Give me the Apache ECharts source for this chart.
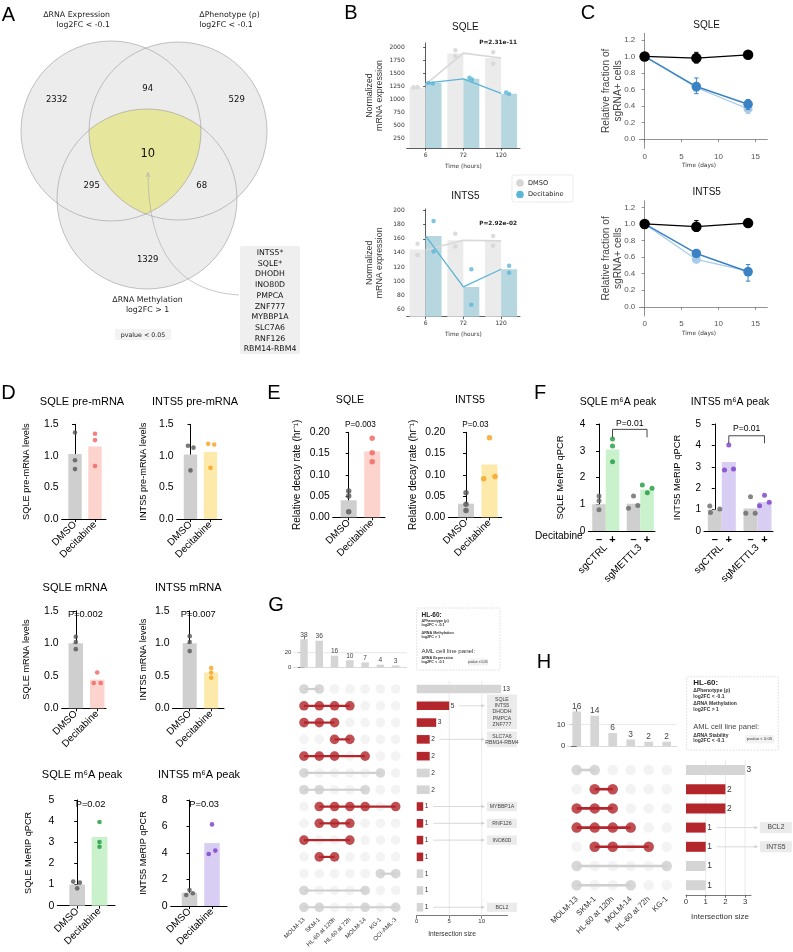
<!DOCTYPE html>
<html><head><meta charset="utf-8"><title>Figure</title>
<script src="https://cdn.jsdelivr.net/npm/echarts@6/dist/echarts.min.js"></script>
<style>html,body{margin:0;padding:0;background:#fff;}#chart{width:793px;height:952px;}</style>
</head><body><div id="chart"></div>
<script>
/* ================= DATA ================= */
// Panel A (Venn)
const vennSets = ['ΔRNA Expression\nlog2FC < -0.1', 'ΔPhenotype (ρ)\nlog2FC < -0.1', 'ΔRNA Methylation\nlog2FC > 1'];
const vennCounts = [2332, 94, 529, 10, 295, 68, 1329]; // E only, E&P, P only, all, E&M, P&M, M only
const vennGenes = ['INTS5*','SQLE*','DHODH','INO80D','PMPCA','ZNF777','MYBBP1A','SLC7A6','RNF126','RBM14-RBM4'];
const vennNote = 'pvalue < 0.05';

// Panel B
const bTimes = ['6','72','120'];
const bSqleDmso = [1235, 1890, 1800];
const bSqleDec = [1325, 1400, 1115];
const bSqleDmsoLine = [1295, 1895, 1800];
const bSqleDecLine = [1320, 1400, 1120];
const bSqleDmsoReps = [[1240,1240],[1950,1840],[1910,1690]];
const bSqleDecReps = [[1320,1310],[1420,1390],[1140,1110]];
const bInts5Dmso = [145, 158, 157];
const bInts5Dec = [164, 92, 117];
const bInts5DmsoLine = [144, 158, 157];
const bInts5DecLine = [164, 92, 117];
const bInts5DmsoReps = [[153,137],[167,149],[164,150]];
const bInts5DecReps = [[185,142],[117,67],[122,112]];
const bPvals = ['P=2.31e-11', 'P=2.92e-02'];
const bLegend = ['DMSO', 'Decitabine'];

// Panel C
const cDays = [0, 7, 14];
const cSqleCtrl = [1.0, 0.98, 1.02];
const cSqleCtrlErr = [[0.98,1.02],[0.92,1.05],[1.00,1.03]];
const cSqleSg1 = [1.0, 0.636, 0.423];
const cSqleSg1Err = [[0.99,1.01],[0.55,0.74],[0.36,0.48]];
const cSqleSg2 = [1.0, 0.625, 0.366];
const cSqleSg2Err = [[0.99,1.01],[0.58,0.68],[0.31,0.42]];
const cInts5Ctrl = [1.0, 0.967, 1.01];
const cInts5CtrlErr = [[0.98,1.02],[0.91,1.04],[1.00,1.02]];
const cInts5Sg1 = [1.0, 0.644, 0.423];
const cInts5Sg1Err = [[0.99,1.01],[0.62,0.67],[0.31,0.51]];
const cInts5Sg2 = [1.0, 0.572, 0.43];
const cInts5Sg2Err = [[0.99,1.01],[0.55,0.59],[0.38,0.47]];

// Panel D
const dGroups = ['DMSO', 'Decitabine'];
const dSqlePreMean = [1.03, 1.15];
const dSqlePreReps = [[1.37,0.93,0.79],[1.35,1.25,0.84]];
const dInts5PreMean = [1.02, 1.06];
const dInts5PreReps = [[1.16,1.13,0.77],[1.19,1.18,0.81]];
const dSqleMrnaMean = [1.0, 0.44];
const dSqleMrnaReps = [[1.10,1.02,0.91],[0.55,0.39,0.39]];
const dInts5MrnaMean = [1.0, 0.55];
const dInts5MrnaReps = [[1.11,1.02,0.88],[0.62,0.55,0.47]];
const dSqleM6aMean = [1.0, 3.25];
const dSqleM6aReps = [[1.14,1.09,0.82],[3.96,3.01,2.79]];
const dInts5M6aMean = [1.0, 4.75];
const dInts5M6aReps = [[1.21,0.83,0.96],[6.16,4.18,3.92]];
const dPvals = ['P=0.002','P=0.007','P=0.02','P=0.03'];

// Panel E
const eSqleMean = [0.040, 0.155];
const eSqleReps = [[0.062,0.050,0.013],[0.186,0.152,0.131]];
const eInts5Mean = [0.032, 0.124];
const eInts5Reps = [[0.058,0.031,0.016],[0.187,0.091,0.096]];
const ePvals = ['P=0.003','P=0.03'];

// Panel F
const fGroups = ['sgCTRL','sgMETTL3'];
const fTreat = ['–','+','–','+'];
const fSqleMean = [1.0, 3.05, 1.02, 1.55];
const fSqleReps = [[1.31,1.13,0.79],[3.44,3.18,2.59],[1.31,0.85,0.95],[1.72,1.43,1.60]];
const fInts5Mean = [1.0, 3.22, 1.05, 1.35];
const fInts5Reps = [[1.17,0.87,1.03],[4.02,2.85,2.90],[1.60,0.83,0.83],[1.67,1.18,1.34]];
const fPvals = ['P=0.01','P=0.01'];

// Panel G (UpSet)
const gCols = ['MOLM-13','SKM-1','HL-60 at 120h','HL-60 at 72h','MOLM-14','KG-1','OCI-AML-3'];
const gColTotals = [38,36,16,10,7,4,3];
const gRows = [[0,1],[0,1,2,3],[0,1,2],[2,3],[0,1,2,4],[0,5],[0,1,4],[1,2,3,4,6],[1,2,3],[0,3],[1,2],[5,6],[0,4],[0,1,4,6]];
const gRowSizes = [13,5,3,2,2,2,2,1,1,1,1,1,1,1];
const gRowHighlight = [0,1,1,1,1,0,0,1,1,1,1,0,0,0];
const gLabelRows = [1,3,7,8,9,13];
const gLabelTexts = ['SQLE\nINTS5\nDHODH\nPMPCA\nZNF777','SLC7A6\nRBM14-RBM4','MYBBP1A','RNF126','INO80D','BCL2'];
const gBoxTitle = 'HL-60:';
const gBoxLines = ['ΔPhenotype (ρ)','log2FC < -0.1','ΔRNA Methylation','log2FC > 1'];
const gBoxPanel = 'AML cell line panel:';
const gBoxPanelLines = ['ΔRNA Expression','log2FC < -0.1'];

// Panel H (UpSet)
const hCols = ['MOLM-13','SKM-1','HL-60 at 120h','MOLM-14','HL-60 at 72h','KG-1'];
const hColTotals = [16,14,6,3,2,2];
const hRows = [[0,1],[1,2],[0,1,2],[0,1,2,3],[1,2,4],[0,5],[0,3]];
const hRowSizes = [3,2,2,1,1,1,1];
const hRowHighlight = [0,1,1,1,1,0,0];
const hLabelRows = [3,4];
const hLabelTexts = ['BCL2','INTS5'];
const hBoxLines = ['ΔPhenotype (ρ)','log2FC < -0.1','ΔRNA Methylation','log2FC > 1'];
const hBoxPanelLines = ['ΔRNA Stability','log2FC < -0.1'];

/* ================= BUILD ================= */
const SANS = '"Liberation Sans", Arial, Helvetica, sans-serif';
const DJV = '"DejaVu Sans", Verdana, sans-serif';
const RED = '#b3262b', UGREY = '#cfcfcf';
const option = {animation:false, backgroundColor:'#ffffff', textStyle:{fontFamily:SANS},
  grid:[], xAxis:[], yAxis:[], series:[], graphic:{elements:[]}};
const GR = option.graphic.elements;

function merge(a,b){const o=Object.assign({},a);for(const k in b){const v=b[k];
  if(v&&typeof v==='object'&&!Array.isArray(v)&&o[k]&&typeof o[k]==='object'&&!Array.isArray(o[k]))o[k]=merge(o[k],v);else o[k]=v;}return o;}
function grid(l,t,w,h){option.grid.push({left:l,top:t,width:w,height:h,containLabel:false,outerBoundsMode:'none',show:false});return option.grid.length-1;}
function xAx(o){option.xAxis.push(o);return option.xAxis.length-1;}
function yAx(o){option.yAxis.push(o);return option.yAxis.length-1;}
function ser(o){o.silent=true;o.animation=false;option.series.push(o);}
function tStyle(str,size,o){const s={text:str,fontSize:size,fontFamily:o.font||SANS,fontWeight:o.weight||'normal',fill:o.color||'#000',
  align:o.align||'center',textAlign:o.align||'center',verticalAlign:o.va||'middle',textVerticalAlign:o.va||'middle'};if(o.lh)s.lineHeight=o.lh;return s;}
function text(x,y,str,size,o={}){GR.push({type:'text',x:x,y:y,rotation:o.rot||0,z:o.z||20,silent:true,style:tStyle(str,size,o)});}
function rect(x,y,w,h,style,r){GR.push({type:'rect',shape:{x:x,y:y,width:w,height:h,r:r||0},style:style,z:5,silent:true});}
const ROT = Math.PI/2;

/* ---------- Panel letters ---------- */
[['A',8.5,15],['B',351,13],['C',588,13],['D',8.5,393],['E',274,393],['F',540,393],['G',276,605],['H',544,662]]
  .forEach(p=>text(p[1],p[2],p[0],20,{font:SANS}));

/* ---------- Panel A: Venn ---------- */
const VC=[{x:111,y:131,r:90},{x:178,y:131,r:89},{x:147,y:199,r:90}];
VC.forEach(c=>GR.push({type:'circle',shape:{cx:c.x,cy:c.y,r:c.r},style:{fill:'#ececec'},z:1,silent:true}));
function inter(a,b){const dx=b.x-a.x,dy=b.y-a.y,d=Math.hypot(dx,dy);const l=(a.r*a.r-b.r*b.r+d*d)/(2*d);const h=Math.sqrt(a.r*a.r-l*l);
  const mx=a.x+dx*l/d,my=a.y+dy*l/d;return [[mx+h*dy/d,my-h*dx/d],[mx-h*dy/d,my+h*dx/d]];}
function arcPts(c,p1,p2){let a1=Math.atan2(p1[1]-c.y,p1[0]-c.x),a2=Math.atan2(p2[1]-c.y,p2[0]-c.x);while(a2<a1)a2+=2*Math.PI;
  const pts=[];for(let i=0;i<=40;i++){const a=a1+(a2-a1)*i/40;pts.push([c.x+c.r*Math.cos(a),c.y+c.r*Math.sin(a)]);}return pts;}
const vLow=inter(VC[0],VC[1]).sort((p,q)=>q[1]-p[1])[0];
const vTL=inter(VC[2],VC[1]).sort((p,q)=>p[0]-q[0])[0];
const vTR=inter(VC[2],VC[0]).sort((p,q)=>q[0]-p[0])[0];
GR.push({type:'polygon',shape:{points:[...arcPts(VC[2],vTL,vTR),...arcPts(VC[0],vTR,vLow),...arcPts(VC[1],vLow,vTL)]},style:{fill:'#e6e69c'},z:2,silent:true});
VC.forEach(c=>GR.push({type:'circle',shape:{cx:c.x,cy:c.y,r:c.r},style:{fill:null,stroke:'#9a9a9a',lineWidth:0.6},z:3,silent:true}));
const vennSetPos=[{x:110,y:15,align:'right'},{x:199.3,y:15,align:'left'},{x:147.5,y:300,align:'center'}];
vennSets.forEach((s,i)=>{const ls=s.split('\n');ls.forEach((l,k)=>text(vennSetPos[i].x,vennSetPos[i].y+k*10,l,7.8,{font:DJV,align:vennSetPos[i].align,color:'#222'}));});
const vennPos=[[56.7,100],[147.7,88.3],[236.7,100],[147.7,154],[91.7,186],[201.7,186],[147.7,260]];
vennCounts.forEach((v,i)=>text(vennPos[i][0],vennPos[i][1],String(v),i===3?11.5:8.5,{font:DJV,color:'#111'}));
GR.push({type:'bezierCurve',shape:{x1:239,y1:295,cpx1:148,cpy1:290,x2:148,y2:173},style:{stroke:'#b0b0b0',lineWidth:0.7,fill:null},z:4,silent:true});
GR.push({type:'polyline',shape:{points:[[146,177],[148,172.5],[150,177]]},style:{stroke:'#b0b0b0',lineWidth:0.7,fill:null},z:4,silent:true});
rect(240,246,60,108,{fill:'#efefef'},2);
vennGenes.forEach((g,i)=>text(270,253+i*10.7,g,7.8,{font:DJV,color:'#111'}));
rect(115,329,56,11,{fill:'#f3f3f3'},1);
text(143,335,vennNote,6.3,{font:DJV,color:'#222'});

/* ---------- Panel B ---------- */
const SEA={axisLine:{show:true,lineStyle:{color:'#333',width:0.8}},axisTick:{show:true,length:2.5,lineStyle:{color:'#333',width:0.8}},
  axisLabel:{show:true,color:'#333',fontSize:6,fontFamily:DJV,margin:2},splitLine:{show:false}};
function bPanel(L,d){
  const g=grid(L.left,L.top,L.width,L.height);
  const xc=xAx(merge(SEA,{gridIndex:g,type:'category',data:bTimes,boundaryGap:true,axisTick:{alignWithLabel:true},axisLabel:{margin:4}}));
  const xv=xAx({gridIndex:g,type:'value',min:-0.5,max:2.5,show:false});
  const y=yAx(merge(SEA,{gridIndex:g,type:'value',min:L.ymin,max:L.ymax,startValue:L.ymin,axisTick:{customValues:L.ticks},
    axisLabel:{customValues:L.ticks,formatter:v=>String(v)}}));
  ser({type:'bar',xAxisIndex:xc,yAxisIndex:y,data:d.dmso,barWidth:L.barW,barGap:'0%',clip:true,itemStyle:{color:'#ebebeb'},z:1});
  ser({type:'bar',xAxisIndex:xc,yAxisIndex:y,data:d.dec,barWidth:L.barW,barGap:'0%',clip:true,itemStyle:{color:'#b6d7df'},z:1});
  ser({type:'line',xAxisIndex:xc,yAxisIndex:y,data:d.dmsoLine,symbol:'none',lineStyle:{color:'#d8d8d8',width:1.6},z:3});
  ser({type:'line',xAxisIndex:xc,yAxisIndex:y,data:d.decLine,symbol:'none',lineStyle:{color:'#5cb4d5',width:1.3},z:3});
  const off=(L.barW/2)/(L.width/3);
  ser({type:'scatter',xAxisIndex:xv,yAxisIndex:y,symbolSize:4.5,itemStyle:{color:'#d3d3d3'},z:4,
    data:d.dmsoReps.flatMap((r,i)=>r.map((v,k)=>[i-off+L.jitD[i][k],v]))});
  ser({type:'scatter',xAxisIndex:xv,yAxisIndex:y,symbolSize:4.5,itemStyle:{color:'#5cb6d8'},z:4,
    data:d.decReps.flatMap((r,i)=>r.map((v,k)=>[i+off+L.jitT[i][k],v]))});
  text(L.left+L.width-3,L.top+L.pY,d.p,5.8,{font:DJV,weight:'bold',align:'right',color:'#222'});
  text(L.left+L.width/2+2,L.titleY,d.title,10,{color:'#111'});
  text(L.left+L.width/2,L.top+L.height+18,'Time (hours)',5.8,{font:DJV,color:'#333'});
  text(370,L.top+L.height/2,'Normalized',8.8,{rot:ROT,color:'#333'});
  text(380,L.top+L.height/2,'mRNA expression',8.8,{rot:ROT,color:'#333'});
}
bPanel({left:406.7,top:43,width:113.3,height:105,ymin:70,ymax:2090,ticks:[250,500,750,1000,1250,1500,1750,2000],barW:16,pY:-0.5,titleY:27,
  jitD:[[-0.11,0],[0,0],[0,0]],jitT:[[-0.14,-0.02],[-0.05,0.02],[-0.08,0]]},
  {dmso:bSqleDmso,dec:bSqleDec,dmsoLine:bSqleDmsoLine,decLine:bSqleDecLine,dmsoReps:bSqleDmsoReps,decReps:bSqleDecReps,p:bPvals[0],title:'SQLE'});
bPanel({left:406.7,top:209,width:113.3,height:107.7,ymin:50,ymax:202,ticks:[60,80,100,120,140,160,180,200],barW:16,pY:14.5,titleY:196,
  jitD:[[0,0],[0,0],[0,0]],jitT:[[0,0],[0,0],[0,0]]},
  {dmso:bInts5Dmso,dec:bInts5Dec,dmsoLine:bInts5DmsoLine,decLine:bInts5DecLine,dmsoReps:bInts5DmsoReps,decReps:bInts5DecReps,p:bPvals[1],title:'INTS5'});
// legend
rect(512,175,61,27,{fill:'#fff',stroke:'#e2e2e2',lineWidth:0.7},2);
GR.push({type:'circle',shape:{cx:520,cy:183,r:3.8},style:{fill:'#d6d6d6'},z:6,silent:true});
GR.push({type:'circle',shape:{cx:520,cy:194.5,r:3.8},style:{fill:'#5cb6d8'},z:6,silent:true});
text(528,183,bLegend[0],6.6,{font:DJV,align:'left',color:'#222'});
text(528,194.5,bLegend[1],6.6,{font:DJV,align:'left',color:'#222'});

/* ---------- Panel C ---------- */
const CAX={axisLine:{show:true,lineStyle:{color:'#777',width:0.8}},axisTick:{show:true,length:3,lineStyle:{color:'#777',width:0.8}},
  axisLabel:{show:true,color:'#555',fontSize:8,fontFamily:SANS,margin:4},splitLine:{show:false}};
function errSeries(x,y,vals,errs,color,z){
  ser({type:'custom',xAxisIndex:x,yAxisIndex:y,z:z,encode:{x:0,y:[1,2]},data:cDays.map((d,i)=>[d,errs[i][0],errs[i][1]]),
    renderItem:(p,api)=>{const lo=api.coord([api.value(0),api.value(1)]),hi=api.coord([api.value(0),api.value(2)]);const w=2.2;
      return {type:'group',children:[
        {type:'line',shape:{x1:lo[0],y1:lo[1],x2:hi[0],y2:hi[1]},style:{stroke:color,lineWidth:1}},
        {type:'line',shape:{x1:lo[0]-w,y1:lo[1],x2:lo[0]+w,y2:lo[1]},style:{stroke:color,lineWidth:1}},
        {type:'line',shape:{x1:hi[0]-w,y1:hi[1],x2:hi[0]+w,y2:hi[1]},style:{stroke:color,lineWidth:1}}]};}});
}
function cPanel(top,h,d){
  const g=grid(639.3,top,128,h);
  const x=xAx(merge(CAX,{gridIndex:g,type:'value',min:-0.72,max:16.6,axisTick:{customValues:[0,5,10,15]},axisLabel:{customValues:[0,5,10,15]}}));
  const y=yAx(merge(CAX,{gridIndex:g,type:'value',min:-0.11,max:1.28,axisTick:{customValues:[0,0.2,0.4,0.6,0.8,1.0,1.2]},
    axisLabel:{customValues:[0,0.2,0.4,0.6,0.8,1.0,1.2],formatter:v=>v.toFixed(1)}}));
  const sets=[[d.sg2,d.sg2Err,'#a9cbea',9,1.2,2],[d.sg1,d.sg1Err,'#3a82c4',9.5,1.5,4],[d.ctrl,d.ctrlErr,'#000000',10.5,1.2,6]];
  sets.forEach(s=>{
    errSeries(x,y,s[0],s[1],s[2],s[5]);
    ser({type:'line',xAxisIndex:x,yAxisIndex:y,z:s[5]+1,data:cDays.map((dd,i)=>[dd,s[0][i]]),symbol:'circle',symbolSize:s[3],
      showSymbol:true,itemStyle:{color:s[2]},lineStyle:{color:s[2],width:s[4]}});
  });
  text(706.7,top-8.5,d.title,10,{color:'#111'});
  text(699,top+h+17,'Time (days)',5.8,{font:DJV,color:'#333'});
  text(606,top+h/2,'Relative fraction of',10.2,{rot:ROT,color:'#444'});
  text(618,top+h/2,'sgRNA+ cells',10.2,{rot:ROT,color:'#444'});
}
cPanel(33.3,115,{title:'SQLE',ctrl:cSqleCtrl,ctrlErr:cSqleCtrlErr,sg1:cSqleSg1,sg1Err:cSqleSg1Err,sg2:cSqleSg2,sg2Err:cSqleSg2Err});
cPanel(200.7,115.3,{title:'INTS5',ctrl:cInts5Ctrl,ctrlErr:cInts5CtrlErr,sg1:cInts5Sg1,sg1Err:cInts5Sg1Err,sg2:cInts5Sg2,sg2Err:cInts5Sg2Err});

/* ---------- GraphPad-style bar panels (D, E, F) ---------- */
const GP={axisLine:{show:true,lineStyle:{color:'#000',width:1}},axisTick:{show:true,length:3,lineStyle:{color:'#000',width:1}},
  axisLabel:{show:true,color:'#000',fontSize:10.5,fontFamily:SANS,margin:3},splitLine:{show:false}};
function pxC(left,right,top,bottom,c0,c1){return {left,right,top,bottom,x0:c0,unit:c1-c0};}
function textSeries(x,y,items){
  ser({type:'custom',xAxisIndex:x,yAxisIndex:y,z:6,clip:false,data:items.map(it=>[it.x,it.y]),
    renderItem:(p,api)=>{const it=items[p.dataIndex];const pt=api.coord([api.value(0),api.value(1)]);
      return {type:'text',x:pt[0],y:pt[1],style:tStyle(it.text,it.size,{color:'#000'})};}});
}
function gpPanel(c){
  const P=c.px;
  const g=grid(P.left,P.top,P.right-P.left,P.bottom-P.top);
  const min=(P.left-P.x0)/P.unit,max=(P.right-P.x0)/P.unit;
  const x=xAx(merge(GP,{gridIndex:g,type:'value',position:'bottom',min:min,max:max,
    axisTick:{show:c.xTicks!==false,customValues:c.pos},
    axisLabel:{customValues:c.pos,formatter:v=>c.names[c.pos.findIndex(t=>Math.abs(t-v)<1e-6)],rotate:c.rotate===undefined?45:c.rotate,
      fontSize:c.xfs||10,margin:c.xMargin||4,fontWeight:c.xWeight||'normal'}}));
  const y=yAx(merge(GP,{gridIndex:g,type:'value',min:0,max:c.ymax,interval:c.yint,axisLabel:{formatter:v=>v.toFixed(c.ydec),fontSize:c.yfs||10.5}}));
  ser({type:'bar',xAxisIndex:x,yAxisIndex:y,barWidth:c.barW,z:1,
    data:c.means.map((m,i)=>({value:[c.pos[i],m],itemStyle:{color:c.barColors[i]}}))});
  ser({type:'scatter',xAxisIndex:x,yAxisIndex:y,symbolSize:c.dot,z:3,
    data:c.reps.flatMap((r,i)=>r.map((v,k)=>({value:[c.pos[i]+c.jit[i][k]/P.unit,v],itemStyle:{color:c.dotColors[i]}})))});
  if(c.title)text(c.titleX,c.titleY,c.title,c.tfs||11,{color:'#000'});
  if(c.yname)text(c.ynameX,(P.top+P.bottom)/2,c.yname,c.ynfs||9.2,{rot:ROT,color:'#000'});
  if(c.ann)textSeries(x,y,c.ann);
  return {g,x,y,min,max};
}
const DM_BAR='#cfcfcf',DM_DOT='#555555';
const Z3=[[0,0,0],[0,0,0]];
// D row 1
gpPanel({px:pxC(61.7,106,424.3,519,75,95),pos:[0,1],names:dGroups,ymax:1.5,yint:0.5,ydec:1,means:dSqlePreMean,reps:dSqlePreReps,
  barColors:[DM_BAR,'#fdd3cd'],dotColors:[DM_DOT,'#f3625f'],jit:Z3,barW:13.4,dot:4.6,
  title:'SQLE pre-mRNA',titleX:82,titleY:401.7,yname:'SQLE pre-mRNA levels',ynameX:26.7});
gpPanel({px:pxC(176.7,221.7,424.3,519,190.5,210.5),pos:[0,1],names:dGroups,ymax:1.5,yint:0.5,ydec:1,means:dInts5PreMean,reps:dInts5PreReps,
  barColors:[DM_BAR,'#fde9a9'],dotColors:[DM_DOT,'#f5a21b'],jit:[[-2.5,3,0],[-2.3,3.7,0]],barW:13.4,dot:4.6,
  title:'INTS5 pre-mRNA',titleX:195,titleY:401.7,yname:'INTS5 pre-mRNA levels',ynameX:143.3});
// D row 2
gpPanel({px:pxC(61.7,106,610.8,708.3,75.8,97.2),pos:[0,1],names:dGroups,ymax:1.5,yint:0.5,ydec:1,means:dSqleMrnaMean,reps:dSqleMrnaReps,
  barColors:[DM_BAR,'#fdd3cd'],dotColors:[DM_DOT,'#f3625f'],jit:[[0,0,0],[0,-3.5,3.5]],barW:14.5,dot:4.6,
  title:'SQLE mRNA',titleX:75,titleY:588.3,yname:'SQLE mRNA levels',ynameX:26.7,ann:[{x:0.45,y:1.44,text:dPvals[0],size:9.3}]});
gpPanel({px:pxC(172.5,224,610.8,708.3,189.7,211.2),pos:[0,1],names:dGroups,ymax:1.5,yint:0.5,ydec:1,means:dInts5MrnaMean,reps:dInts5MrnaReps,
  barColors:[DM_BAR,'#fde9a9'],dotColors:[DM_DOT,'#f5a21b'],jit:Z3,barW:14,dot:4.6,
  title:'INTS5 mRNA',titleX:188.3,titleY:588.3,yname:'INTS5 mRNA levels',ynameX:143.3,ann:[{x:0.4,y:1.44,text:dPvals[1],size:9.3}]});
// D row 3
gpPanel({px:pxC(57.3,115,800,905.7,77.2,99.5),pos:[0,1],names:dGroups,ymax:5,yint:1,ydec:0,means:dSqleM6aMean,reps:dSqleM6aReps,
  barColors:[DM_BAR,'#c9f1cc'],dotColors:[DM_DOT,'#1a9a3a'],jit:[[-4,2.7,0],[0,0,0]],barW:15.7,dot:4.6,
  title:'SQLE m⁶A peak',titleX:82,titleY:775,yname:'SQLE MeRIP qPCR',ynameX:28,ann:[{x:0.6,y:4.8,text:dPvals[2],size:9.3}]});
gpPanel({px:pxC(170.7,227,800,906,189.5,212),pos:[0,1],names:dGroups,ymax:8,yint:2,ydec:0,means:dInts5M6aMean,reps:dInts5M6aReps,
  barColors:[DM_BAR,'#d8cdf3'],dotColors:[DM_DOT,'#7a3bc8'],jit:[[0,-3.3,3.3],[0,3.3,-3.3]],barW:15.5,dot:4.6,
  title:'INTS5 m⁶A peak',titleX:199,titleY:775,yname:'INTS5 MeRIP qPCR',ynameX:143.3,ann:[{x:0.65,y:7.7,text:dPvals[3],size:9.3}]});
// E
gpPanel({px:pxC(332.7,385,432.3,517.3,348.7,372.2),pos:[0,1],names:dGroups,ymax:0.2,yint:0.05,ydec:2,yfs:10.3,means:eSqleMean,reps:eSqleReps,
  barColors:[DM_BAR,'#fdd3cd'],dotColors:[DM_DOT,'#f3625f'],jit:Z3,barW:16,dot:5.5,
  title:'SQLE',titleX:350,titleY:400,tfs:10.6,yname:'Relative decay rate (hr⁻¹)',ynameX:297,ynfs:10,ann:[{x:0.5,y:0.217,text:ePvals[0],size:8.2}]});
gpPanel({px:pxC(448.3,501.7,432.3,517.3,466,489.5),pos:[0,1],names:dGroups,ymax:0.2,yint:0.05,ydec:2,yfs:10.3,means:eInts5Mean,reps:eInts5Reps,
  barColors:[DM_BAR,'#fde9a9'],dotColors:[DM_DOT,'#f5a21b'],jit:[[0,0,0],[0,-5.8,5.5]],barW:16,dot:5.5,
  title:'INTS5',titleX:470,titleY:400,tfs:10.6,yname:'Relative decay rate (hr⁻¹)',ynameX:413,ynfs:10,ann:[{x:0.4,y:0.217,text:ePvals[1],size:8.2}]});
// F
const F_POS=[0,1,2.55,3.55];
function fPanel(px,d){
  const r=gpPanel({px:px,pos:F_POS,names:fTreat,rotate:0,xTicks:false,xfs:11,xMargin:3,xWeight:'bold',ymax:d.ymax,yint:1,ydec:0,yfs:10,
    means:d.means,reps:d.reps,barColors:[DM_BAR,d.bar,DM_BAR,d.bar],dotColors:['#666666',d.dot,'#666666',d.dot],jit:d.jit,barW:px.unit,dot:5,
    title:d.title,titleX:d.titleX,titleY:401.7,tfs:10.5,yname:d.yname,ynameX:d.ynameX,ynfs:9.4,
    ann:[{x:(F_POS[1]+F_POS[3])/2,y:d.pY,text:d.p,size:8.6}]});
  const centers=[(F_POS[0]+F_POS[1])/2,(F_POS[2]+F_POS[3])/2];
  xAx({gridIndex:r.g,type:'value',position:'bottom',offset:0,min:r.min,max:r.max,axisLine:{show:false,onZero:false},axisTick:{show:false},splitLine:{show:false},
    axisLabel:{show:true,customValues:centers,formatter:v=>fGroups[centers.findIndex(t=>Math.abs(t-v)<1e-6)],rotate:45,fontSize:10,color:'#000',fontFamily:SANS,margin:15}});
  ser({type:'custom',xAxisIndex:r.x,yAxisIndex:r.y,z:6,clip:false,data:[[F_POS[1],F_POS[3],d.bY,d.bY2]],encode:{x:[0,1],y:[2,3]},
    renderItem:(p,api)=>{const a=api.coord([api.value(0),api.value(2)]),b=api.coord([api.value(1),api.value(2)]);
      const a2=api.coord([api.value(0),api.value(3)]),b2=api.coord([api.value(1),api.value(3)]);
      return {type:'polyline',shape:{points:[a2,a,b,b2]},style:{stroke:'#333',lineWidth:0.9,fill:null}};}});
}
fPanel({left:588.3,right:655,top:424,bottom:531,x0:599,unit:13.53},
  {ymax:4,means:fSqleMean,reps:fSqleReps,bar:'#c9f1cc',dot:'#1a9a3a',jit:[[0,0,0],[0,0,0],[0,-5,4.3],[-4.7,0.3,5]],
   title:'SQLE m⁶A peak',titleX:618,yname:'SQLE MeRIP qPCR',ynameX:560,p:fPvals[0],pY:4.03,bY:3.8,bY2:3.5});
fPanel({left:704,right:773,top:424,bottom:531,x0:714.8,unit:14.0},
  {ymax:5,means:fInts5Mean,reps:fInts5Reps,bar:'#d8cdf3',dot:'#7a3bc8',jit:[[-5,-4.3,5],[0,-4.3,4.7],[0,-4.7,4.7],[0,-5,4.7]],
   title:'INTS5 m⁶A peak',titleX:730,yname:'INTS5 MeRIP qPCR',ynameX:677,p:fPvals[1],pY:4.77,bY:4.45,bY2:4.1});
text(582.7,536,'Decitabine',10.1,{align:'right'});

/* ---------- UpSet panels (G, H) ---------- */
function upset(c,L){
  const nC=c.cols.length,nR=c.rows.length;
  const xmin=(L.matLeft-L.col0)/L.colStep,xmax=(L.matRight-L.col0)/L.colStep;
  const rowTop=L.row0-L.rowStep/2,rowH=L.rowStep*nR;
  const UA={axisLine:{show:true,lineStyle:{color:'#555',width:0.8}},axisTick:{show:true,length:L.tickLen,lineStyle:{color:'#555',width:0.8}},
    axisLabel:{show:true,color:'#333',fontSize:L.fsTick,fontFamily:SANS,margin:2},splitLine:{show:false}};
  // top bars
  const gT=grid(L.matLeft,L.topTop,L.matRight-L.matLeft,L.topBottom-L.topTop);
  const xT=xAx({gridIndex:gT,type:'value',min:xmin,max:xmax,axisLine:{show:true,lineStyle:{color:'#d0d0d0',width:0.8}},axisTick:{show:false},axisLabel:{show:false},splitLine:{show:false}});
  const yT=yAx(merge(UA,{gridIndex:gT,type:'value',min:0,max:L.topMax,axisTick:{customValues:L.topTicks},axisLabel:{customValues:L.topTicks}}));
  ser({type:'custom',xAxisIndex:xT,yAxisIndex:yT,z:1,data:L.topGrid.map(v=>[0,v]),
    renderItem:(p,api)=>{const cs=p.coordSys;const yy=api.coord([0,api.value(1)])[1];
      return {type:'line',shape:{x1:cs.x,y1:yy,x2:cs.x+cs.width,y2:yy},style:{stroke:'#e2e2e2',lineWidth:0.8}};}});
  ser({type:'bar',xAxisIndex:xT,yAxisIndex:yT,barWidth:L.topBarW,z:2,itemStyle:{color:'#d5d5d5'},
    label:{show:true,position:'top',distance:1,fontSize:L.fsBar,color:'#444',fontFamily:SANS,formatter:p=>p.value[1]},
    data:c.totals.map((v,i)=>[i,v])});
  // matrix
  const gM=grid(L.matLeft,rowTop,L.matRight-L.matLeft,rowH);
  const xM=xAx({gridIndex:gM,type:'value',min:xmin,max:xmax,axisLine:{show:false},axisTick:{show:false},splitLine:{show:false},
    axisLabel:{show:true,customValues:c.cols.map((_,i)=>i),formatter:v=>c.cols[Math.round(v)],rotate:45,fontSize:L.fsCol,color:'#333',fontFamily:SANS,margin:L.colMargin}});
  const yM=yAx({gridIndex:gM,type:'category',inverse:true,data:c.rows.map((_,i)=>'r'+i),show:false});
  const all=[];for(let i=0;i<nR;i++)for(let j=0;j<nC;j++)all.push([j,i]);
  ser({type:'scatter',xAxisIndex:xM,yAxisIndex:yM,symbolSize:L.dot,itemStyle:{color:'#f0f0f0'},z:1,data:all});
  ser({type:'custom',xAxisIndex:xM,yAxisIndex:yM,z:3,encode:{x:[0,2],y:1},data:c.rows.map((r,i)=>[Math.min(...r),i,Math.max(...r)]),
    renderItem:(p,api)=>{const i=p.dataIndex;const a=api.coord([api.value(0),i]),b=api.coord([api.value(2),i]);
      return {type:'line',shape:{x1:a[0],y1:a[1],x2:b[0],y2:b[1]},style:{stroke:c.hi[i]?RED:UGREY,lineWidth:L.lw}};}});
  ser({type:'scatter',xAxisIndex:xM,yAxisIndex:yM,symbolSize:L.dot,z:4,
    data:c.rows.flatMap((r,i)=>r.map(j=>({value:[j,i],itemStyle:{color:c.hi[i]?RED:UGREY}})))});
  // right bars
  const gR=grid(L.rbLeft,rowTop,L.rbUnit*L.rbMax,rowH);
  const xR=xAx(merge(UA,{gridIndex:gR,type:'value',min:0,max:L.rbMax,axisTick:{customValues:L.rbTicks,length:3},axisLabel:{customValues:L.rbTicks,margin:3}}));
  const yR=yAx({gridIndex:gR,type:'category',inverse:true,data:c.rows.map((_,i)=>'r'+i),show:false});
  ser({type:'custom',xAxisIndex:xR,yAxisIndex:yR,z:1,data:L.rbGrid.map(v=>[v,0]),
    renderItem:(p,api)=>{const cs=p.coordSys;const xx=api.coord([api.value(0),0])[0];
      return {type:'line',shape:{x1:xx,y1:cs.y,x2:xx,y2:cs.y+cs.height},style:{stroke:'#e4e4e4',lineWidth:0.8}};}});
  ser({type:'bar',xAxisIndex:xR,yAxisIndex:yR,barWidth:L.rbBarW,z:2,
    label:{show:true,position:'right',distance:1.5,fontSize:L.fsBar,color:'#333',fontFamily:SANS},
    data:c.sizes.map((v,i)=>({value:v,itemStyle:{color:c.hi[i]?RED:'#d5d5d5'}}))});
  ser({type:'custom',xAxisIndex:xR,yAxisIndex:yR,z:5,clip:false,data:c.labelRows.map(r=>[c.sizes[r],r]),
    renderItem:(p,api)=>{const k=p.dataIndex;const r=c.labelRows[k];const e=api.coord([api.value(0),r]);const bx=api.coord([L.boxVal,r])[0];
      const t=c.labelTexts[k];const n=t.split('\n').length;const h=n*L.boxLH+L.boxPad;const y=e[1];const by=y+(L.boxDy[k]||0);
      const x1=e[0]+L.arrowGap,x2=bx-2;
      return {type:'group',children:[
        {type:'line',shape:{x1:x1,y1:y,x2:x2-2,y2:y},style:{stroke:'#cfcfcf',lineWidth:0.8}},
        {type:'polygon',shape:{points:[[x2-3.5,y-1.7],[x2,y],[x2-3.5,y+1.7]]},style:{fill:'#cfcfcf'}},
        {type:'rect',shape:{x:bx,y:by-h/2,width:L.boxW,height:h},style:{fill:'#ebebeb'}},
        {type:'text',x:bx+L.boxW/2,y:by,style:tStyle(t,L.boxFs,{color:'#444',lh:L.boxLH})}]};}});
  text(L.xNameX,L.xNameY,'Intersection size',L.fsName,{color:'#333'});
}
upset({cols:gCols,totals:gColTotals,rows:gRows,sizes:gRowSizes,hi:gRowHighlight,labelRows:gLabelRows,labelTexts:gLabelTexts},
  {col0:304,colStep:15.28,matLeft:293.3,matRight:406.7,topTop:636.7,topBottom:667.7,topMax:41.3,topTicks:[0,20],topGrid:[20],
   row0:689,rowStep:16.79,rbLeft:416.7,rbUnit:6.5,rbMax:14,rbTicks:[0,5,10],rbGrid:[5,10],
   dot:9.6,lw:2.2,topBarW:7.5,rbBarW:8.6,tickLen:6,fsTick:6,fsBar:6.6,fsCol:6,colMargin:3,
   boxVal:10.8,boxW:30,boxLH:6.3,boxPad:3,boxFs:5.2,boxDy:[6],arrowGap:10,xNameX:452,xNameY:934,fsName:6.6});
upset({cols:hCols,totals:hColTotals,rows:hRows,sizes:hRowSizes,hi:hRowHighlight,labelRows:hLabelRows,labelTexts:hLabelTexts},
  {col0:576.7,colStep:18,matLeft:567.3,matRight:676.7,topTop:709.3,topBottom:746,topMax:17,topTicks:[0,10],topGrid:[10],
   row0:770,rowStep:19.2,rbLeft:686,rbUnit:19.7,rbMax:3.3,rbTicks:[0,1,2,3],rbGrid:[1,2,3],
   dot:10.5,lw:2.6,topBarW:8.7,rbBarW:10,tickLen:6,fsTick:7.8,fsBar:8.4,fsCol:7.8,colMargin:3,
   boxVal:3.76,boxW:31.7,boxLH:8,boxPad:3,boxFs:6.8,boxDy:[],arrowGap:11,xNameX:720,xNameY:917,fsName:8});
// G text box
rect(416.7,608,83.3,62,{fill:'#fff',stroke:'#cccccc',lineWidth:0.7,lineDash:[1.5,1.5]},1);
text(421.5,615,gBoxTitle,6.5,{align:'left',weight:'bold',color:'#222'});
[620.5,624.5,632.5,636.5].forEach((yy,i)=>text(421.5,yy,gBoxLines[i],3.7,{align:'left',weight:'bold',color:'#333'}));
text(421.5,651.5,gBoxPanel,6.2,{align:'left',color:'#333'});
[657.5,661.5].forEach((yy,i)=>text(421.5,yy,gBoxPanelLines[i],3.7,{align:'left',weight:'bold',color:'#333'}));
rect(468,658.5,20,7,{fill:'#f2f2f2'},0);
text(478,662,vennNote,3.3,{color:'#333'});
// H text box
rect(686.7,676.7,91.6,73.3,{fill:'#fff',stroke:'#cccccc',lineWidth:0.7,lineDash:[1.5,1.5]},1);
text(693.3,682.7,gBoxTitle,8,{align:'left',weight:'bold',color:'#222'});
[691,696.5,704,709.3].forEach((yy,i)=>text(693.3,yy,hBoxLines[i],5,{align:'left',weight:'bold',color:'#333'}));
text(693.3,727.3,gBoxPanel,7.6,{align:'left',color:'#444'});
[736,741].forEach((yy,i)=>text(693.3,yy,hBoxPanelLines[i],5,{align:'left',weight:'bold',color:'#333'}));
rect(745,735,29,8.5,{fill:'#f2f2f2'},0);
text(759.5,739.3,vennNote,4.2,{color:'#333'});

const chart=echarts.init(document.getElementById('chart'),null,{renderer:'canvas',width:793,height:952});
chart.setOption(option);
</script></body></html>
